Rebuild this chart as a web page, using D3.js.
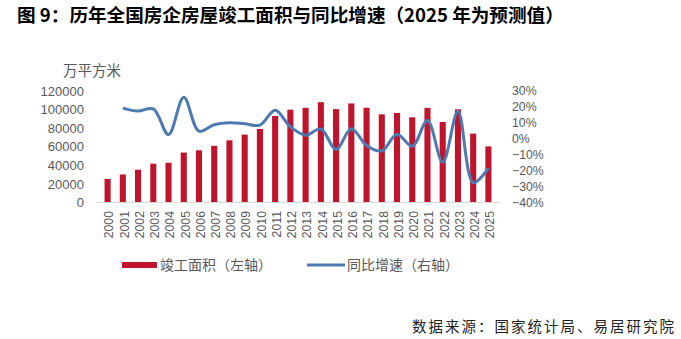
<!DOCTYPE html>
<html><head><meta charset="utf-8">
<script src="https://cdn.jsdelivr.net/npm/d3@7"></script>
<style>
body{margin:0;background:#fff;}
svg{display:block;}
text{font-family:"Noto Sans CJK SC","Noto Sans",sans-serif;}
.num text{font-family:"Liberation Sans",Arial,sans-serif;}
</style></head>
<body><svg id="c" width="681" height="339"></svg>
<script>
const years = ["2000","2001","2002","2003","2004","2005","2006","2007","2008","2009","2010","2011","2012","2013","2014","2015","2016","2017","2018","2019","2020","2021","2022","2023","2024","2025"];
const area = [25105,29867,34976,41464,42465,53417,55831,60607,66545,72677,78744,92620,99425,101435,107459,100039,106128,101486,94421,95942,91218,101412,86222,99831,73743,60000];
const growth = [null,19.0,17.1,18.5,2.4,25.8,4.5,8.6,9.8,9.2,8.3,17.6,7.3,2.0,5.9,-6.9,6.1,-4.4,-7.8,2.6,-4.9,11.2,-15.0,17.0,-27.7,-18.6];
const leftTicks = [0,20000,40000,60000,80000,100000,120000];
const rightTicks = [-40,-30,-20,-10,0,10,20,30];

const svg = d3.select("#c");
const x = d3.scaleBand().domain(years).range([95.4,500.6]).padding(0.6);
const yL = d3.scaleLinear().domain([0,120000]).range([202.3,90.5]);
const yR = d3.scaleLinear().domain([-40,30]).range([202.3,90.5]);

// title
svg.append("text").attr("x",17).attr("y",22).attr("font-size",18.6).attr("font-weight","bold").attr("fill","#000")
  .text("图 9：历年全国房企房屋竣工面积与同比增速（2025 年为预测值）");

// unit
svg.append("text").attr("x",63).attr("y",76).attr("font-size",14.5).attr("fill","#595959").text("万平方米");

// left axis
const gL = svg.append("g").attr("class","num").attr("transform","translate(84,0)")
  .call(d3.axisLeft(yL).tickValues(leftTicks).tickSize(0).tickPadding(0).tickFormat(d3.format("d")));
gL.select(".domain").remove();
gL.selectAll("text").attr("font-size",13).attr("fill","#595959").attr("dy","0.35em");

// right axis
const gR = svg.append("g").attr("class","num").attr("transform","translate(512,0)")
  .call(d3.axisRight(yR).tickValues(rightTicks).tickSize(0).tickPadding(0).tickFormat(d=>(d<0?"\u2212"+(-d):d)+"%"));
gR.select(".domain").remove();
gR.selectAll("text").attr("font-size",12.3).attr("fill","#595959").attr("dy","0.35em");

// bars
svg.append("g").selectAll("rect").data(years).join("rect")
  .attr("x",d=>x(d)).attr("width",x.bandwidth())
  .attr("y",(d,i)=>yL(area[i])).attr("height",(d,i)=>yL(0)-yL(area[i]))
  .attr("fill","#c0132c");

// baseline
svg.append("line").attr("x1",95.4).attr("x2",500.6).attr("y1",202.5).attr("y2",202.5).attr("stroke","#d9d9d9").attr("stroke-width",1);

// x labels
const gX = svg.append("g").attr("class","num").attr("transform","translate(0,211)")
  .call(d3.axisBottom(x).tickSize(0).tickPadding(0));
gX.select(".domain").remove();
gX.selectAll("text").attr("font-size",12.3).attr("fill","#595959")
  .attr("transform","rotate(-90)").attr("text-anchor","end").attr("x",0).attr("y",0).attr("dy","0.35em").attr("dx","0");
gX.selectAll(".tick").attr("transform",d=>`translate(${x(d)+x.bandwidth()/2+1.5},0)`);

// line
const pts = years.map((d,i)=>[x(d)+x.bandwidth()/2, growth[i]]).filter(p=>p[1]!==null);
const line = d3.line().x(p=>p[0]).y(p=>yR(p[1])).curve(d3.curveCatmullRom.alpha(0.5));
svg.append("path").datum(pts).attr("d",line).attr("fill","none").attr("stroke","#4e7ab0").attr("stroke-width",3);

// legend
svg.append("rect").attr("x",122).attr("y",262).attr("width",35).attr("height",6).attr("fill","#c0132c");
svg.append("text").attr("x",160).attr("y",270).attr("font-size",14).attr("fill","#595959").text("竣工面积（左轴）");
svg.append("line").attr("x1",307).attr("x2",345).attr("y1",265).attr("y2",265).attr("stroke","#4e7ab0").attr("stroke-width",3);
svg.append("text").attr("x",347).attr("y",270).attr("font-size",14).attr("fill","#595959").text("同比增速（右轴）");

// source
svg.append("text").attr("x",412).attr("y",332).attr("font-size",14.5).attr("letter-spacing",2).attr("fill","#222")
  .text("数据来源：国家统计局、易居研究院");
</script></body></html>
